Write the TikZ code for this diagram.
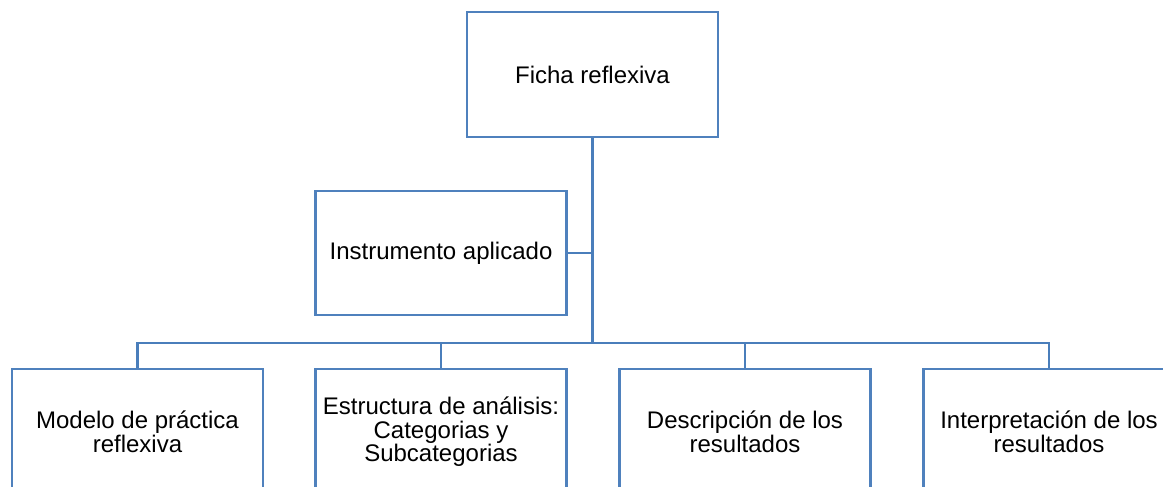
\documentclass[tikz,border=0pt]{standalone}
\usepackage{fontspec}
\setmainfont{Liberation Sans}
\begin{document}
\begin{tikzpicture}[x=1pt,y=-1pt]
 \definecolor{b1}{RGB}{79,129,189}
 \definecolor{b2}{RGB}{74,126,187}
 \tikzset{
   box/.style={draw=b1,line width=2.7pt,fill=white,
   minimum width=251pt,minimum height=125pt,
   align=center,inner sep=0pt,
   font=\fontsize{24}{23.5}\selectfont},
   link/.style={draw=b2,line width=2.9pt}
 }
 \clip (0,0) rectangle (1163,487);
 \node[box] (top) at (592.5,74.5) {Ficha reflexiva};
 \node[box,minimum height=124pt] (inst) at (441,253) {Instrumento aplicado};
 \node[box,minimum height=126pt] (b1) at (137.5,432)
   {Modelo de práctica\\reflexiva};
 \node[box,minimum height=126pt] (b2) at (441,432)
   {Estructura de análisis:\\Categorias y\\Subcategorias};
 \node[box,minimum height=126pt] (b3) at (745,432)
   {Descripción de los\\resultados};
 \node[box,minimum height=126pt] (b4) at (1049,432)
   {Interpretación de los\\resultados};
 \coordinate (hub) at (592.5,343);
 \draw[link] (top.south) -- (hub);
 \draw[link] (inst.east) -- (inst.east -| hub);
 \foreach \i in {1,...,4} {
   \draw[link] (b\i.north) |- (hub);
 }
\end{tikzpicture}
\end{document}
